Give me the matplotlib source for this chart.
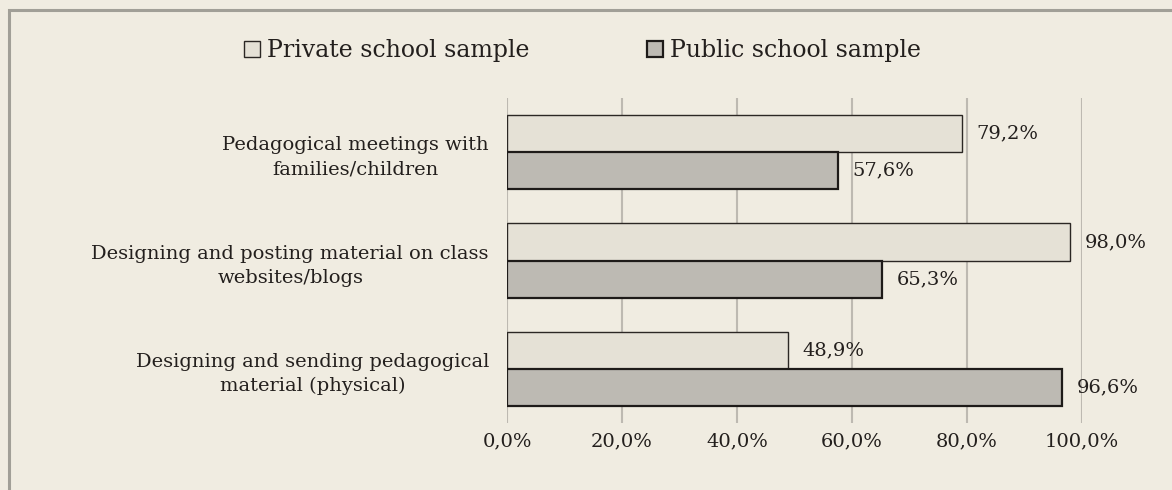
import numpy as np
import matplotlib.pyplot as plt
from matplotlib.patches import Rectangle, Patch

# data
categories = ["Pedagogical meetings with\nfamilies/children",
              "Designing and posting material on class\nwebsites/blogs",
              "Designing and sending pedagogical\nmaterial (physical)"]
private_vals = [79.2, 98.0, 48.9]
public_vals = [57.6, 65.3, 96.6]
series_names = ["Private school sample", "Public school sample"]
xticks = [0, 20, 40, 60, 80, 100]

BG = "#F0ECE1"
TXT = "#231F1D"
plt.rcParams['font.family'] = ['DejaVu Serif']
plt.rcParams['font.size'] = 14

fig = plt.figure(figsize=(11.72, 4.9), dpi=100, facecolor=BG)
ax = fig.add_axes([0.4326, 0.1367, 0.4906, 0.6633])
ax.set_facecolor(BG)

# outer frame
fig.patches.append(Rectangle((9 / 1172, -0.1), 1.2, 1 - 10 / 490 + 0.1,
                             transform=fig.transFigure, fill=False,
                             edgecolor="#A19F97", lw=2.2))

y = np.arange(len(categories))
h = 0.343
b1 = ax.barh(y - h / 2, private_vals, height=h, color="#E5E1D6",
             edgecolor="#2B2724", lw=1.0, label=series_names[0], zorder=3)
b2 = ax.barh(y + h / 2, public_vals, height=h, color="#BDBAB3",
             edgecolor="#1E1B19", lw=1.6, label=series_names[1], zorder=3)

fmt = lambda v: f"{v:.1f}%".replace(".", ",")
ax.bar_label(b1, labels=[fmt(v) for v in private_vals], padding=10, color=TXT)
ax.bar_label(b2, labels=[fmt(v) for v in public_vals], padding=10, color=TXT)

ax.set_xlim(0, 100)
ax.set_ylim(2.5, -0.5)
ax.set_xticks(xticks)
ax.set_xticklabels([fmt(v) for v in xticks], color=TXT)
ax.set_yticks(y)
ax.set_yticklabels(categories, color=TXT, multialignment="center", linespacing=1.45)
ax.tick_params(axis="both", length=0)
ax.tick_params(axis="x", pad=7)
ax.tick_params(axis="y", pad=13)
ax.grid(axis="x", color="#BDB9B1", lw=1.5, zorder=0)
for s in ax.spines.values():
    s.set_visible(False)

handles = [Patch(facecolor="#E5E1D6", edgecolor="#2B2724", lw=1.0),
           Patch(facecolor="#BDBAB3", edgecolor="#1E1B19", lw=1.6)]
fig.legend(handles, series_names, loc="center", bbox_to_anchor=(0.497, 0.896),
           ncol=2, frameon=False, fontsize=17, handlelength=0.68, handleheight=0.68,
           handletextpad=0.3, columnspacing=5.0, labelcolor=TXT)

fig.savefig("out.png", dpi=100, facecolor=BG)
